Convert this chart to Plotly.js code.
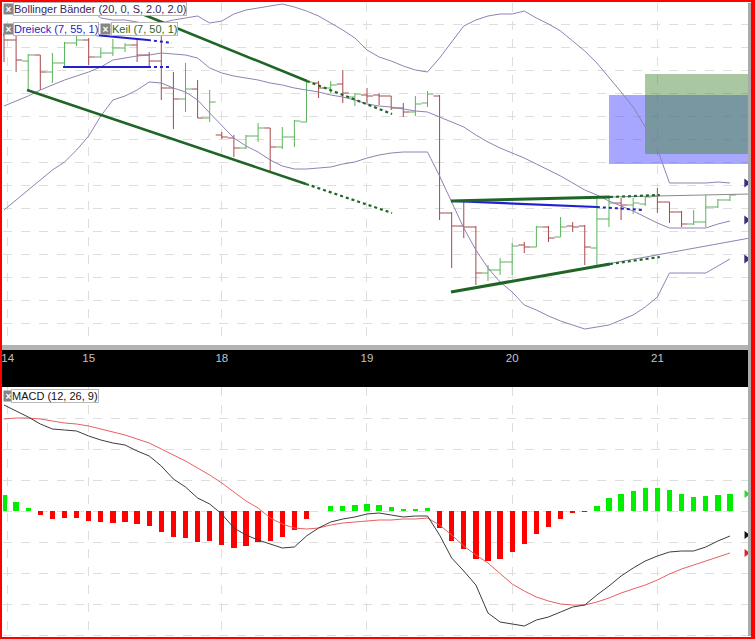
<!DOCTYPE html>
<html><head><meta charset="utf-8">
<script src="https://cdn.plot.ly/plotly-3.0.1.min.js"></script>
<style>html,body{margin:0;padding:0;background:#fff;} #chart{width:755px;height:639px;}</style>
</head><body><div id="chart"></div>
<script>
// ---- data (price in chart units, one bar per hour-ish period) ----
const dayLabels = ['14','15','18','19','20','21'];
const dayStartBar = [0.3,7,18,30,42,54];

const open  = [315,310,289,295,278,287,307,310,293,297, 302,305,295,289,262,251,261,232,215,212, 202,214,222,203,213,228,267,262,266,253, 255,255,254,242,238,247,254,137,124,123, 77,80,88,105,103,123,113,124,124,102, 131,147,145,146,154,148,138,126,128,143, 150];
const high  = [317,315,296,295,297,308,315,312,302,311, 307,312,298,322,278,287,270,260,218,215, 215,227,222,223,230,269,269,269,280,257, 262,257,254,247,254,259,255,138,148,124, 85,92,107,108,124,124,133,128,125,152, 153,152,152,154,162,148,139,140,155,151, 156];
const low   = [288,278,260,260,267,284,304,285,292,294, 298,288,284,250,221,238,232,228,211,193, 201,208,178,201,203,228,252,257,247,244, 247,245,240,233,234,243,130,82,112,65, 69,75,75,97,103,108,113,118,85,85, 123,130,136,144,137,127,123,125,123,142, 149];
const close = [310,290,295,278,287,307,310,293,297,302, 305,295,289,262,251,261,232,248,213,202, 214,222,203,213,229,268,262,265,257,256, 254,254,242,238,246,256,137,124,123,77, 80,88,104,103,123,112,123,123,103,131, 147,145,147,153,148,138,126,128,143,150, 155];

const bbUpper  = [348,348,348,350,350,352,348,342,332,330, 330,328,325,327,330,332,334,327,329,336, 340,342,344,346,343,339,334,327,320,312, 300,293,289,284,280,278,292,308,324,330, 334,336,336,339,332,326,319,309,299,287, 273,258,243,223,201,167,167,167,167,168, 167];
const bbMiddle = [244,249,254,260,265,270,274,278,283,290, 292,294,295,297,296,295,292,282,277,274, 272,270,267,265,262,260,258,255,253,250, 246,244,243,241,239,238,233,228,223,215, 208,202,197,192,186,180,174,167,160,155, 149,144,139,133,127,122,122,122,122,126, 129];
const bbLower  = [140,150,160,170,180,188,200,214,234,250, 254,260,268,267,262,258,250,237,225,212, 204,198,190,184,181,181,182,183,186,188, 192,195,197,198,198,198,174,148,122,100, 82,68,58,45,40,34,29,25,21,23, 25,30,35,43,53,77,77,77,77,84, 91];

const macdLine = [106,100,94,87,82,81,80,75,71,68, 66,60,55,45,32,24,13,7,-3,-17, -24,-29,-33,-37,-36,-25,-17,-11,-8,-6, -3,-2,-4,-6,-5,-5,-24,-47,-60,-74, -102,-111,-113,-115,-109,-106,-101,-96,-94,-84, -75,-65,-57,-50,-45,-41,-40,-40,-36,-30, -25];
const signalLine = [92,93,93,92,90,88,87,85,82,79, 76,72,68,62,56,50,43,36,28,19, 10,3,-7,-13,-17,-18,-17,-14,-12,-11, -10,-9,-9,-8,-8,-7,-14,-24,-35,-44, -52,-63,-73,-80,-86,-90,-93,-94,-94,-91, -87,-82,-78,-74,-69,-63,-58,-54,-50,-46, -42];
const histogram = [16,9,3,-4,-8,-7,-7,-10,-11,-12, -11,-13,-15,-21,-26,-27,-31,-30,-34,-37, -35,-31,-30,-26,-19,-8,0,5,5,6, 7,6,4,2,2,3,-17,-30,-38,-48, -50,-48,-41,-33,-23,-16,-8,-2,-1,5, 13,17,20,23,23,21,17,14,15,16, 17];

// drawing objects (bar index, price)
const keilUpperSolid = {x:[10.6,25.04], y:[340,269]};
const keilUpperDot   = {x:[25.04,32.07], y:[269,236]};
const keilLowerSolid = {x:[1.9,24.96],   y:[260,166]};
const keilLowerDot   = {x:[24.96,32.07], y:[166,137]};
const dreieckUpperSolid = {x:[4.88,11.9],  y:[318,310]};
const dreieckUpperDot   = {x:[11.9,13.88], y:[310,307]};
const dreieckLowerSolid = {x:[4.88,11.9],  y:[283,283]};
const dreieckLowerDot   = {x:[11.9,13.88], y:[283,283]};
const tri2UpperSolid = {x:[36.94,50.08], y:[149,153]};
const tri2UpperDot   = {x:[50.08,54.2],  y:[153,155]};
const tri2UpperExt   = {x:[50.08,61.65], y:[153,156]};
const tri2BlueSolid  = {x:[36.94,49.0],  y:[149,143]};
const tri2BlueDot    = {x:[49.0,52.8],   y:[143,140]};
const tri2LowerSolid = {x:[36.94,50.08], y:[58,86]};
const tri2LowerDot   = {x:[50.08,54.2],  y:[86,93]};
const tri2LowerExt   = {x:[48.5,61.65], y:[83,112]};
const rectBlue  = {x0:50.0,  x1:61.6, y0:186, y1:255};
const rectGreen = {x0:52.98, x1:61.6, y0:196, y1:276};
const priceEdgeMarks = [167,130,91];
const macdEdgeMarks = [17,-24,-42];

// ---- build ----
const xs = open.map((_, i) => i);
const W = 755, H = 639;
const px = v => v / W, py = v => 1 - v / H;
const FONT = 'Liberation Sans, Arial, sans-serif';
const bandColor = '#8f82b3';
const dkGreen = '#1f6526';
const blue = '#2020d0';

function seg(s, color, width, dash, xa, ya) {
  return {type:'scatter', mode:'lines', x:s.x, y:s.y, xaxis:xa||'x', yaxis:ya||'y',
    line:{color:color, width:width, dash:dash||'solid'}, hoverinfo:'skip', showlegend:false};
}

const traces = [
  {type:'scatter', mode:'lines', x:xs, y:bbUpper, line:{color:bandColor, width:1}, showlegend:false, hoverinfo:'skip'},
  {type:'scatter', mode:'lines', x:xs, y:bbMiddle, line:{color:bandColor, width:1}, showlegend:false, hoverinfo:'skip'},
  {type:'scatter', mode:'lines', x:xs, y:bbLower, line:{color:bandColor, width:1}, showlegend:false, hoverinfo:'skip'},
  seg(tri2UpperExt, '#8a8a8a', 1),
  seg(tri2LowerExt, bandColor, 1),
  seg(keilUpperSolid, dkGreen, 2.5), seg(keilUpperDot, dkGreen, 2.2, 'dot'),
  seg(keilLowerSolid, dkGreen, 2.5), seg(keilLowerDot, dkGreen, 2.2, 'dot'),
  seg(dreieckUpperSolid, blue, 2.2), seg(dreieckUpperDot, blue, 2, 'dot'),
  seg(dreieckLowerSolid, blue, 2.2), seg(dreieckLowerDot, blue, 2, 'dot'),
  seg(tri2BlueSolid, blue, 2.2), seg(tri2BlueDot, blue, 2, 'dot'),
  seg(tri2UpperSolid, dkGreen, 3), seg(tri2UpperDot, dkGreen, 2.2, 'dot'),
  seg(tri2LowerSolid, dkGreen, 3), seg(tri2LowerDot, dkGreen, 2.2, 'dot'),
  {type:'ohlc', x:xs, open:open, high:high, low:low, close:close, xaxis:'x', yaxis:'y',
   increasing:{line:{color:'#5cb35c', width:1}}, decreasing:{line:{color:'#a5484a', width:1}},
   tickwidth:0.5, showlegend:false, hoverinfo:'skip'},
  {type:'scatter', mode:'markers', x:priceEdgeMarks.map(()=>61.35), y:priceEdgeMarks, cliponaxis:false,
   marker:{symbol:'triangle-right', size:8, color:'#3b2d7c'}, showlegend:false, hoverinfo:'skip'},
  // MACD panel
  {type:'bar', x:xs, y:histogram, xaxis:'x2', yaxis:'y2', width:0.44,
   marker:{color:histogram.map(v => v >= 0 ? '#00ee00' : '#ff0000'), line:{width:0}}, showlegend:false, hoverinfo:'skip'},
  {type:'scatter', mode:'lines', x:xs, y:signalLine, xaxis:'x2', yaxis:'y2', line:{color:'#e86060', width:1}, showlegend:false, hoverinfo:'skip'},
  {type:'scatter', mode:'lines', x:xs, y:macdLine, xaxis:'x2', yaxis:'y2', line:{color:'#3c3c3c', width:1}, showlegend:false, hoverinfo:'skip'},
  {type:'scatter', mode:'markers', x:macdEdgeMarks.map(()=>61.35), y:macdEdgeMarks, xaxis:'x2', yaxis:'y2', cliponaxis:false,
   marker:{symbol:'triangle-right', size:7, color:['#22dd22','#111111','#e02020']}, showlegend:false, hoverinfo:'skip'}
];

const xRange = [-0.083, 61.49];
const xDomain = [px(3), px(748)];
const gridC = '#dedede';

function label(xp, yp, text, color) {
  return {xref:'paper', yref:'paper', x:px(xp), y:py(yp), xanchor:'left', yanchor:'top', showarrow:false,
    text:text, font:{family:FONT, size:11, color:color}, bgcolor:'#ffffff', bordercolor:'#b8b8b8', borderwidth:1, borderpad:0};
}
function icon(xp, yp) {
  return {xref:'paper', yref:'paper', x:px(xp), y:py(yp), xanchor:'left', yanchor:'top', showarrow:false,
    text:'<b>×</b>', font:{family:FONT, size:10, color:'#ffffff'}, bgcolor:'#858585', borderpad:0, width:9, height:10};
}

const layout = {
  width:W, height:H, margin:{l:0,r:0,t:0,b:0}, paper_bgcolor:'#ffffff', plot_bgcolor:'#ffffff',
  showlegend:false, hovermode:false, bargap:0,
  xaxis:{domain:xDomain, range:xRange, anchor:'y', tickvals:dayStartBar, ticktext:dayLabels,
    showgrid:true, gridcolor:gridC, griddash:'dash', gridwidth:1, zeroline:false, showline:false, ticks:'',
    tickfont:{family:FONT, size:11.5, color:'#c4c4c4'}, ticklabelstandoff:4, ticklabeloverflow:'allow',
    rangeslider:{visible:false}, fixedrange:true},
  yaxis:{domain:[py(345), py(3)], range:[5,347], tick0:27, dtick:23, showticklabels:false,
    showgrid:true, gridcolor:gridC, griddash:'dash', zeroline:false, showline:false, ticks:''},
  xaxis2:{domain:xDomain, range:xRange, anchor:'y2', tickvals:dayStartBar, showticklabels:false,
    showgrid:true, gridcolor:gridC, griddash:'dash', zeroline:false, showline:false, ticks:''},
  yaxis2:{domain:[py(636), py(387)], range:[-125,124], tick0:0, dtick:31, showticklabels:false,
    showgrid:true, gridcolor:gridC, griddash:'dash', zeroline:false, showline:false, ticks:''},
  shapes:[
    {type:'rect', xref:'x', yref:'y', x0:rectBlue.x0, x1:rectBlue.x1, y0:rectBlue.y0, y1:rectBlue.y1,
     fillcolor:'rgba(80,80,255,0.5)', line:{width:0}, layer:'between'},
    {type:'rect', xref:'x', yref:'y', x0:rectGreen.x0, x1:rectGreen.x1, y0:rectGreen.y0, y1:rectGreen.y1,
     fillcolor:'rgba(64,134,46,0.45)', line:{width:0}, layer:'between'},
    {type:'rect', xref:'paper', yref:'paper', x0:0, x1:1, y0:py(350), y1:py(345), fillcolor:'#b2b2b2', line:{width:0}, layer:'below'},
    {type:'rect', xref:'paper', yref:'paper', x0:0, x1:1, y0:py(387), y1:py(350), fillcolor:'#000000', line:{width:0}, layer:'below'},
    {type:'rect', xref:'paper', yref:'paper', x0:px(748), x1:px(751), y0:py(636), y1:py(3), fillcolor:'#aaaaaa', line:{width:0}, layer:'above'},
    {type:'rect', xref:'paper', yref:'paper', x0:0, x1:px(2), y0:0, y1:1, fillcolor:'#ff0000', line:{width:0}, layer:'above'},
    {type:'rect', xref:'paper', yref:'paper', x0:px(751), x1:1, y0:0, y1:1, fillcolor:'#ff0000', line:{width:0}, layer:'above'},
    {type:'rect', xref:'paper', yref:'paper', x0:0, x1:1, y0:py(2), y1:1, fillcolor:'#ff0000', line:{width:0}, layer:'above'},
    {type:'rect', xref:'paper', yref:'paper', x0:0, x1:1, y0:0, y1:py(637), fillcolor:'#ff0000', line:{width:0}, layer:'above'}
  ],
  annotations:[
    icon(3,3), label(13,2,'Bollinger Bänder (20, 0, S, 2.0, 2.0)', '#35275c'),
    icon(3,23), label(13,22,'Dreieck (7, 55, 1)', '#1c1cc8'),
    icon(100,23), label(111,22,'Keil (7, 50, 1)', '#2b6a2b'),
    icon(3,390), label(11,389,'MACD (12, 26, 9)', '#111111')
  ]
};

Plotly.newPlot('chart', traces, layout, {staticPlot:true, displayModeBar:false});
</script></body></html>
